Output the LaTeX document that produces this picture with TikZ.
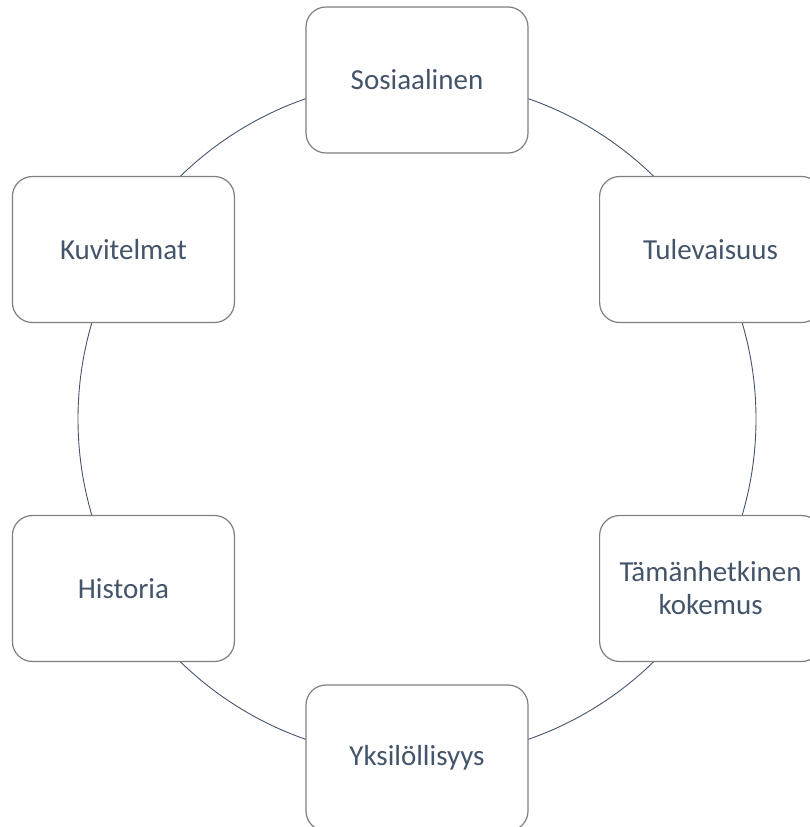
\documentclass[tikz,border=0pt]{standalone}
\usepackage{fontspec}
\setmainfont{Carlito}
\definecolor{txtblue}{HTML}{44546A}
\definecolor{ringblue}{HTML}{44546A}
\definecolor{boxgray}{HTML}{7F7F7F}
\begin{document}
\begin{tikzpicture}[x=1pt,y=-1pt,
  topic/.style={draw=boxgray, line width=1.2pt, fill=white, rounded corners=20pt,
    minimum width=222pt, minimum height=146pt, inner sep=0pt, align=center,
    text=txtblue, font=\fontsize{29}{33}\selectfont}]
\useasboundingbox (0,0) rectangle (810,827);
\clip (0,0) rectangle (810,827);
% ring through the six topic boxes
\coordinate (c) at (417,419);
\draw[ringblue, line width=0.9pt] (c) circle[radius=339pt];
% topic boxes placed every 60 degrees on the ring
\node[topic] (sos) at (417,80)     {Sosiaalinen};
\node[topic] (tul) at (710.6,249.5) {Tulevaisuus};
\node[topic] (tam) at (710.6,588.5) {Tämänhetkinen\\kokemus};
\node[topic] (yks) at (417,758)    {Yksilöllisyys};
\node[topic] (his) at (123.4,588.5) {Historia};
\node[topic] (kuv) at (123.4,249.5) {Kuvitelmat};
\end{tikzpicture}
\end{document}
